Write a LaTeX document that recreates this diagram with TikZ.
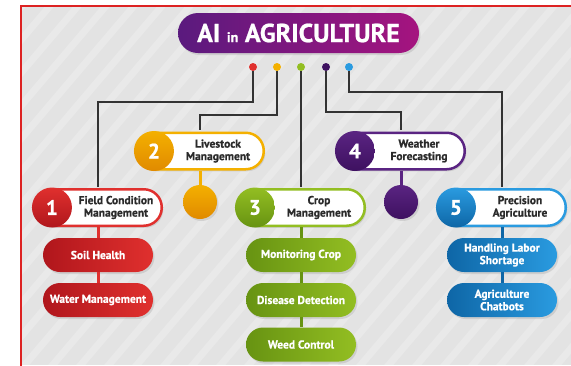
\documentclass[tikz,border=0pt]{standalone}
\usepackage{fontspec}
\setmainfont{PT Sans}[BoldFeatures={FakeBold=0.8}]
\usepackage{tikz}
\usetikzlibrary{shadows}

\definecolor{bggray}{HTML}{E3E3E3}
\definecolor{framered}{HTML}{DD2222}
\definecolor{wirecol}{HTML}{333333}
\definecolor{textdark}{HTML}{2A2A2A}
\definecolor{titleleft}{HTML}{5A1A7E}
\definecolor{titleright}{HTML}{A5147F}
\definecolor{fieldred}{HTML}{E0302E}
\definecolor{fielddark}{HTML}{B0161C}
\definecolor{stockorange}{HTML}{F4B000}
\definecolor{stockdark}{HTML}{E08A00}
\definecolor{cropgreen}{HTML}{93BE22}
\definecolor{cropdark}{HTML}{679312}
\definecolor{weatherpurple}{HTML}{5A2482}
\definecolor{weatherdark}{HTML}{3E1160}
\definecolor{precblue}{HTML}{2A9BE0}
\definecolor{precdark}{HTML}{0E66A6}

\tikzset{
  wire/.style={draw=wirecol, line width=2.8pt},
  stem/.style={draw=#1, line width=3pt},
  dot/.style={circle, inner sep=0pt, minimum size=8pt},
  softshadow/.style={drop shadow={opacity=0.22, shadow xshift=1.5pt, shadow yshift=-2pt}},
  titlebox/.style={rounded corners=20pt, minimum width=241pt, minimum height=40pt,
    left color=titleleft, right color=titleright, text=white,
    font=\fontsize{26}{26}\selectfont\bfseries, softshadow},
  mainbox/.style={draw=#1, line width=2.5pt, fill=white, rounded corners=18pt,
    minimum width=127.5pt, minimum height=36.5pt, softshadow},
  numdisk/.style 2 args={circle, inner sep=0pt, minimum size=40pt,
    top color=#1, bottom color=#2, text=white,
    font=\fontsize{21}{21}\selectfont\bfseries},
  boxlabel/.style={text=textdark, align=center, inner sep=0pt,
    font=\fontsize{11.5}{12.5}\selectfont\bfseries},
  subbox/.style 2 args={rounded corners=17pt, minimum width=110pt, minimum height=34pt,
    left color=#1, right color=#2, text=white, align=center, inner sep=0pt,
    font=\fontsize{11.5}{12.5}\selectfont\bfseries, softshadow},
  ball/.style 2 args={circle, inner sep=0pt, minimum size=34pt,
    top color=#1, bottom color=#2, softshadow}
}

\begin{document}
\begin{tikzpicture}[x=1pt,y=-1pt]
    \useasboundingbox (0,0) rectangle (571,365);

    % background with faint stripes
    \fill[bggray] (21,6) rectangle (571,365);
    \begin{scope}
      \clip (21,6) rectangle (571,365);
      \foreach \sx in {-380,-352,...,570}
        \draw[white, opacity=0.22, line width=7pt] (\sx,380) -- ++(340,-400);
    \end{scope}
    \draw[framered, line width=1.5pt] (21,6) rectangle (590,380);

    \node[titlebox] at (298.5,33) (title) {AI {\fontsize{14}{14}\selectfont in} AGRICULTURE};

    \node[dot, fill=fieldred]      at (253,67) (d1) {};
    \node[dot, fill=stockorange]   at (277,67) (d2) {};
    \node[dot, fill=cropgreen]     at (301,67) (d3) {};
    \node[dot, fill=weatherdark]   at (326,67) (d4) {};
    \node[dot, fill=precblue]      at (349,67) (d5) {};

    % main boxes
    \node[mainbox=fieldred] at (98,207.5) (f1) {};
    \node[numdisk={fieldred}{fielddark}, anchor=west] at ([xshift=-1.25pt]f1.west) (n1) {1};
    \node[boxlabel] at ([xshift=18pt]f1.center) (t1) {Field Condition\\Management};

    \node[mainbox=stockorange] at (200,151) (f2) {};
    \node[numdisk={stockorange}{stockdark}, anchor=west] at ([xshift=-1.25pt]f2.west) (n2) {2};
    \node[boxlabel] at ([xshift=18pt]f2.center) (t2) {Livestock\\Management};

    \node[mainbox=cropgreen] at (301,207.5) (f3) {};
    \node[numdisk={cropgreen}{cropdark}, anchor=west] at ([xshift=-1.25pt]f3.west) (n3) {3};
    \node[boxlabel] at ([xshift=18pt]f3.center) (t3) {Crop\\Management};

    \node[mainbox=weatherpurple] at (401,151) (f4) {};
    \node[numdisk={weatherpurple}{weatherdark}, anchor=west] at ([xshift=-1.25pt]f4.west) (n4) {4};
    \node[boxlabel] at ([xshift=18pt]f4.center) (t4) {Weather\\Forecasting};

    \node[mainbox=precblue] at (502,207.5) (f5) {};
    \node[numdisk={precblue}{precdark}, anchor=west] at ([xshift=-1.25pt]f5.west) (n5) {5};
    \node[boxlabel] at ([xshift=18pt]f5.center) (t5) {Precision\\Agriculture};

    \draw[wire, shorten >=1.25pt] (d1) -- ++(0,35) -| (f1);
    \draw[wire, shorten >=1.25pt] (d2) -- ++(0,48) -| (f2);
    \draw[wire, shorten >=1.25pt] (d3) -- (f3);
    \draw[wire, shorten >=1.25pt] (d4) -- ++(0,45) -| (f4);
    \draw[wire, shorten >=1.25pt] (d5) -- ++(0,25) -| (f5);

    % balls under 2 and 4
    \node[ball={stockorange}{stockdark}] at (200,202) (c2) {};
    \node[ball={weatherpurple}{weatherdark}] at (401,202) (c4) {};
    \draw[stem=stockorange] (f2) -- (c2);
    \draw[stem=weatherpurple] (f4) -- (c4);

    % sub boxes
    \node[subbox={fielddark}{fieldred}] at (98,255) (s11) {Soil Health};
    \node[subbox={fielddark}{fieldred}] at (98,300) (s12) {Water Management};
    \draw (f1) edge[stem=fieldred] (s11) (s11) edge[stem=fieldred] (s12);

    \node[subbox={cropdark}{cropgreen}] at (301,255) (s31) {Monitoring Crop};
    \node[subbox={cropdark}{cropgreen}] at (301,300) (s32) {Disease Detection};
    \node[subbox={cropdark}{cropgreen}] at (301,344.5) (s33) {Weed Control};
    \draw (f3) edge[stem=cropdark] (s31) (s31) edge[stem=cropdark] (s32) (s32) edge[stem=cropdark] (s33);

    \node[subbox={precdark}{precblue}] at (502,255) (s51) {Handling Labor\\Shortage};
    \node[subbox={precdark}{precblue}] at (502,300) (s52) {Agriculture\\Chatbots};
    \draw (f5) edge[stem=precdark] (s51) (s51) edge[stem=precdark] (s52);
\end{tikzpicture}
\end{document}
